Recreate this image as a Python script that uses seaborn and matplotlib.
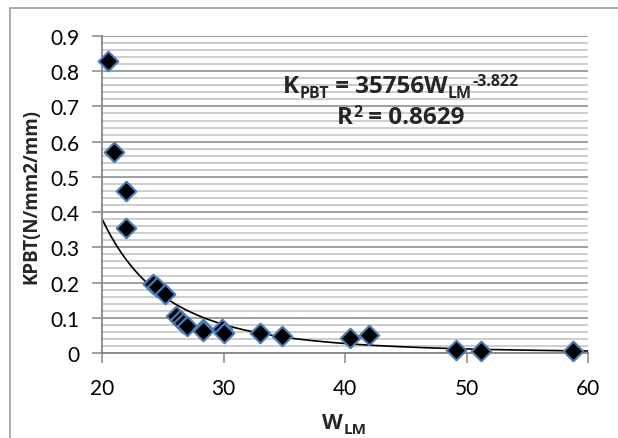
import numpy as np
import pandas as pd
import matplotlib
matplotlib.use('Agg')
import matplotlib.pyplot as plt
import seaborn as sns
from matplotlib.patches import Rectangle
from matplotlib.ticker import MultipleLocator

# --- data ---
w_lm = [20.5, 21.0, 22.0, 22.0, 24.2, 24.5, 25.2, 26.1, 26.4, 26.7, 27.0,
        28.3, 28.3, 29.9, 30.0, 33.0, 34.8, 40.4, 42.0, 49.1, 51.2, 58.8]
kpbt = [0.83, 0.571, 0.459, 0.356, 0.196, 0.187, 0.167, 0.106, 0.095, 0.085, 0.077,
        0.068, 0.063, 0.068, 0.057, 0.057, 0.049, 0.044, 0.052, 0.009, 0.007, 0.005]

# power trendline as printed on the chart
fit_a = 35756
fit_b = -3.822
fit_r2 = 0.8629

x_ticks = [20, 30, 40, 50, 60]
y_ticks = [0, 0.1, 0.2, 0.3, 0.4, 0.5, 0.6, 0.7, 0.8, 0.9]
y_tick_labels = ['0', '0.1', '0.2', '0.3', '0.4', '0.5', '0.6', '0.7', '0.8', '0.9']

df = pd.DataFrame({'W_LM': w_lm, 'KPBT': kpbt})
x_fit = np.linspace(20, 60, 200)
trend = pd.DataFrame({'W_LM': x_fit, 'KPBT': fit_a * x_fit ** fit_b})

# --- style ---
sns.set_style('white')
plt.rcParams['font.family'] = ['Lato', 'DejaVu Sans']
bold_font = ['Open Sans', 'DejaVu Sans']

axis_grey = '#868686'
minor_grey = '#c0c0c0'
edge_blue = '#4a7ebb'

W, H = 618, 439
fig = plt.figure(figsize=(W / 100, H / 100), dpi=100)
ax = fig.add_axes([102 / W, 1 - 354 / H, 486 / W, 317 / H])

# chart border (cut off at right / bottom like the original)
fig.patches.append(Rectangle((10 / W, -0.05), 1.2, 1.05 - 9 / H,
                             transform=fig.transFigure, fill=False,
                             edgecolor='#9a9a9a', linewidth=1.2, zorder=0))

# gridlines
ax.yaxis.set_minor_locator(MultipleLocator(0.02))
ax.grid(which='minor', axis='y', color=minor_grey, linewidth=1.1, zorder=0)
ax.grid(which='major', axis='y', color=axis_grey, linewidth=1.1, zorder=0)
ax.set_axisbelow(True)

sns.lineplot(data=trend, x='W_LM', y='KPBT', color='black', linewidth=1.2,
             ax=ax, zorder=2)
sns.scatterplot(data=df, x='W_LM', y='KPBT', marker='D', s=100, color='black',
                edgecolor=edge_blue, linewidth=1.5, ax=ax, zorder=3, clip_on=False)

ax.set_xlim(20, 60)
ax.set_ylim(0, 0.9)
ax.set_xticks(x_ticks)
ax.set_yticks(y_ticks)
ax.set_yticklabels(y_tick_labels)

for s in ['top', 'right']:
    ax.spines[s].set_visible(False)
for s in ['left', 'bottom']:
    ax.spines[s].set_color(axis_grey)
    ax.spines[s].set_linewidth(1.3)

ax.tick_params(axis='both', which='major', direction='out', length=7, width=1.1,
               color=axis_grey, labelsize=15, labelcolor='black')
ax.tick_params(axis='y', which='major', pad=9)
ax.tick_params(axis='x', which='major', pad=11)
ax.tick_params(axis='y', which='minor', length=0)
ax.tick_params(left=True, bottom=True)
ax.set_xlabel('')
ax.set_ylabel('')


def rich_text(x, y, parts, size=16, small=10):
    """Bold text with sub/superscript pieces chained left to right.
    parts: list of (string, kind), kind in 'base', 'sub', 'sup'."""
    kw = dict(fontweight='bold', family=bold_font, ha='left',
              annotation_clip=False)
    first = ax.annotate(parts[0][0], xy=(x, y), xycoords='figure fraction',
                        fontsize=size, va='bottom', **kw)
    prev, base = first, first
    for txt, kind in parts[1:]:
        if kind == 'base':
            t = ax.annotate(txt, xy=(1, 0), xycoords=(prev, base),
                            fontsize=size, va='bottom', **kw)
            base = t
        elif kind == 'sub':
            t = ax.annotate(txt, xy=(1, 0), xycoords=(prev, base),
                            xytext=(0.3, -2.5), textcoords='offset points',
                            fontsize=small, va='bottom', **kw)
        else:
            t = ax.annotate(txt, xy=(1, 1), xycoords=(prev, base),
                            xytext=(0.3, 0.5), textcoords='offset points',
                            fontsize=small, va='top', **kw)
        prev = t
    return first


# trendline equation and R²
rich_text(283 / W, 1 - 99 / H,
          [('K', 'base'), ('PBT', 'sub'), (' = 35756W', 'base'),
           ('LM', 'sub'), ('%.3f' % fit_b, 'sup')], size=17.5, small=11.5)
rich_text(337 / W, 1 - 130 / H,
          [('R', 'base'), ('2', 'sup'), (' = %.4f' % fit_r2, 'base')],
          size=17.5, small=11.5)

# axis titles
rich_text(322 / W, 1 - 434 / H, [('W', 'base'), ('LM', 'sub')], size=15.5, small=11)
fig.text(31 / W, 1 - 196 / H, 'KPBT(N/mm2/mm)', rotation=90, fontsize=13.5,
         fontweight='bold', family=bold_font, ha='center', va='center')

fig.savefig('out.png', dpi=100)
